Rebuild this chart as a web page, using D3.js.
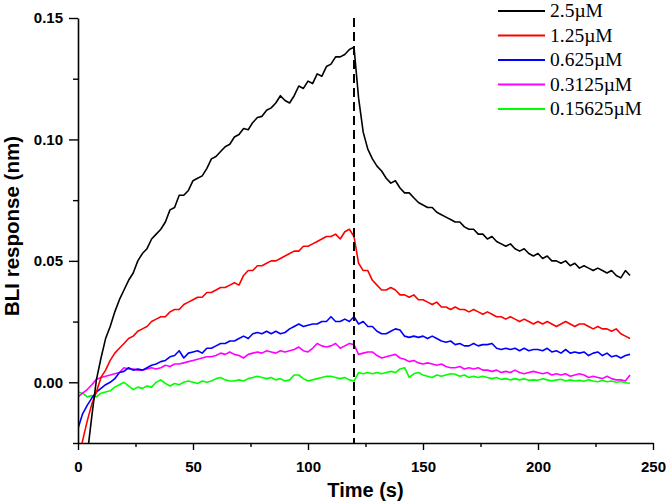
<!DOCTYPE html>
<html><head><meta charset="utf-8">
<script src="https://cdn.jsdelivr.net/npm/d3@7"></script>
<style>
html,body{margin:0;padding:0;background:#fff;}
svg{display:block;}
.tick text{font-family:Arial,"Liberation Sans",sans-serif;font-weight:bold;font-size:15px;fill:#000;}
</style></head>
<body><svg id="chart" width="666" height="503"></svg>
<script>
// ---- data ----
const seriesNames = ["2.5\u00b5M","1.25\u00b5M","0.625\u00b5M","0.3125\u00b5M","0.15625\u00b5M"];
const seriesColors = ["#000000","#ff0000","#0000ff","#ff00ff","#00ff00"];
const timeStep = 2; // s, sampling interval
const c2500 = [
 -0.060,-0.045,-0.030,-0.014,0.001,0.010,0.018,0.023,0.029,0.034,
 0.038,0.042,0.045,0.050,0.053,0.055,0.059,0.061,0.063,0.066,
 0.071,0.072,0.077,0.077,0.079,0.083,0.084,0.085,0.088,0.092,
 0.093,0.095,0.097,0.098,0.101,0.102,0.1045,0.104,0.107,0.109,
 0.1095,0.112,0.113,0.115,0.118,0.116,0.115,0.118,0.122,0.121,
 0.124,0.123,0.127,0.126,0.130,0.131,0.134,0.134,0.135,0.137,
 0.138,0.117,0.103,0.096,0.092,0.089,0.087,0.084,0.082,0.083,
 0.080,0.078,0.078,0.076,0.074,0.073,0.072,0.072,0.070,0.069,
 0.068,0.067,0.066,0.066,0.064,0.063,0.063,0.061,0.061,0.059,
 0.060,0.058,0.057,0.056,0.057,0.055,0.054,0.055,0.053,0.052,
 0.053,0.051,0.052,0.050,0.050,0.049,0.050,0.048,0.049,0.047,
 0.048,0.047,0.046,0.047,0.046,0.045,0.046,0.044,0.043,0.046,
 0.044];
const c1250 = [
 -0.035,-0.024,-0.016,-0.009,-0.004,0.002,0.005,0.009,0.012,0.014,
 0.016,0.018,0.019,0.021,0.022,0.023,0.025,0.026,0.027,0.027,
 0.029,0.030,0.030,0.032,0.033,0.034,0.035,0.035,0.037,0.037,
 0.038,0.039,0.039,0.040,0.041,0.040,0.044,0.046,0.046,0.048,
 0.048,0.049,0.050,0.050,0.051,0.052,0.053,0.054,0.054,0.056,
 0.056,0.057,0.058,0.059,0.060,0.060,0.061,0.059,0.062,0.063,
 0.060,0.049,0.046,0.046,0.042,0.040,0.038,0.038,0.039,0.038,
 0.036,0.036,0.035,0.036,0.034,0.034,0.033,0.032,0.033,0.031,
 0.031,0.030,0.031,0.030,0.030,0.029,0.030,0.029,0.028,0.029,
 0.028,0.027,0.027,0.026,0.027,0.026,0.025,0.026,0.025,0.024,
 0.025,0.024,0.025,0.024,0.023,0.024,0.025,0.024,0.023,0.024,
 0.024,0.023,0.022,0.023,0.022,0.022,0.021,0.022,0.020,0.019,
 0.018];
const c625 = [
 -0.019,-0.013,-0.0095,-0.0065,-0.004,-0.0025,-0.001,0.000,0.0015,0.004,
 0.0045,0.006,0.005,0.0055,0.005,0.006,0.007,0.0075,0.0085,0.009,
 0.0105,0.011,0.013,0.010,0.012,0.0125,0.013,0.012,0.014,0.014,
 0.015,0.016,0.016,0.017,0.017,0.018,0.019,0.018,0.020,0.0205,
 0.020,0.021,0.020,0.021,0.020,0.0205,0.022,0.023,0.024,0.023,
 0.0235,0.024,0.024,0.025,0.025,0.027,0.025,0.025,0.026,0.025,
 0.027,0.024,0.025,0.023,0.023,0.021,0.020,0.020,0.021,0.022,
 0.0215,0.019,0.0185,0.019,0.0185,0.019,0.018,0.019,0.018,0.017,
 0.0165,0.017,0.0155,0.016,0.015,0.015,0.016,0.015,0.0155,0.0155,
 0.016,0.014,0.0135,0.014,0.0135,0.014,0.013,0.014,0.013,0.0135,
 0.0135,0.013,0.014,0.0125,0.013,0.012,0.0135,0.012,0.0125,0.012,
 0.0125,0.011,0.012,0.0125,0.011,0.012,0.0105,0.011,0.010,0.011,
 0.0115];
const c3125 = [
 -0.006,-0.0045,-0.003,-0.001,0.0012,0.002,0.0025,0.003,0.0035,0.004,
 0.006,0.0055,0.0055,0.005,0.005,0.0055,0.006,0.0055,0.006,0.007,
 0.0065,0.0075,0.0075,0.008,0.0085,0.009,0.0095,0.010,0.0105,0.0105,
 0.011,0.012,0.0115,0.0125,0.0115,0.011,0.010,0.0115,0.012,0.0125,
 0.012,0.013,0.0125,0.012,0.013,0.0125,0.013,0.0135,0.0145,0.013,
 0.0125,0.014,0.016,0.015,0.0145,0.015,0.016,0.014,0.015,0.016,
 0.0155,0.0115,0.012,0.0125,0.0125,0.011,0.010,0.0105,0.011,0.0115,
 0.010,0.0095,0.0085,0.009,0.008,0.0075,0.008,0.0075,0.007,0.0075,
 0.0065,0.006,0.006,0.0065,0.0055,0.006,0.0055,0.006,0.005,0.005,
 0.0045,0.005,0.004,0.0045,0.004,0.005,0.004,0.0035,0.004,0.0045,
 0.004,0.0035,0.004,0.003,0.0035,0.003,0.0035,0.0025,0.003,0.0035,
 0.003,0.002,0.0025,0.002,0.0015,0.0025,0.0015,0.001,0.001,0.0005,
 0.003];
const c15625 = [
 -0.004,-0.0045,-0.006,-0.0055,-0.006,-0.0045,-0.004,-0.0035,-0.002,-0.001,
 0.000,-0.0015,-0.003,-0.002,-0.0025,-0.0015,-0.002,0.000,0.001,-0.0005,
 -0.0015,-0.0005,-0.001,0.000,0.0005,0.000,-0.0005,0.0005,0.000,0.0005,
 0.0015,0.002,0.001,0.0005,0.0005,0.001,0.0005,0.0015,0.002,0.0025,
 0.002,0.0015,0.002,0.001,0.0015,0.0005,0.001,0.003,0.003,0.0015,
 0.0005,0.001,0.0015,0.002,0.0025,0.0025,0.002,0.0015,0.002,0.001,
 0.0005,0.004,0.0035,0.004,0.0035,0.004,0.0035,0.004,0.0045,0.004,
 0.0055,0.006,0.002,0.0035,0.004,0.003,0.0025,0.002,0.003,0.0025,
 0.003,0.0035,0.0033,0.0025,0.003,0.002,0.0025,0.002,0.0025,0.002,
 0.0015,0.002,0.0012,0.0015,0.001,0.0015,0.001,0.0015,0.0008,0.001,
 0.0008,0.0015,0.001,0.0005,0.001,0.0012,0.0005,0.001,0.0005,0.0008,
 0.0004,0.001,0.0005,0.0002,0.0008,0.0002,0.0005,0.0,0.0003,-0.0002,
 -0.0004];
const seriesValues = [c2500, c1250, c625, c3125, c15625];
const xTickValues = [0,50,100,150,200,250];
const xMinorTicks = [25,75,125,175,225];
const yTickValues = [0.00,0.05,0.10,0.15];
const yMinorTicks = [-0.025,0.025,0.075,0.125];
const dissociationStart = 120;

// ---- layout ----
const svg = d3.select("#chart");
const L = 78, R = 653, T = 18, B = 443;
const x = d3.scaleLinear().domain([0,250]).range([L,R]);
const y = d3.scaleLinear().domain([-0.025,0.15]).range([B,T]);

svg.append("defs").append("clipPath").attr("id","plotclip")
  .append("rect").attr("x",L).attr("y",T).attr("width",R-L).attr("height",B-T);

// curves
const line = d3.line().x(d=>x(d[0])).y(d=>y(d[1]));
const gLines = svg.append("g").attr("clip-path","url(#plotclip)");
seriesValues.slice().reverse().forEach((vals,ri)=>{
  const i = seriesValues.length-1-ri;
  const pts = vals.map((v,k)=>[k*timeStep, v]);
  gLines.append("path").datum(pts).attr("d",line)
    .attr("fill","none").attr("stroke",seriesColors[i])
    .attr("stroke-width",1.6).attr("stroke-linejoin","round");
});

// dashed line
svg.append("line").attr("x1",x(dissociationStart)).attr("x2",x(dissociationStart))
  .attr("y1",y(0.15)).attr("y2",y(-0.025))
  .attr("stroke","#000").attr("stroke-width",2).attr("stroke-dasharray","9,5");

// axes
svg.append("g").attr("transform",`translate(0,${B})`)
  .call(d3.axisBottom(x).tickValues(xTickValues).tickFormat(d3.format("d")).tickSize(7).tickSizeOuter(0).tickPadding(11));
svg.append("g").attr("transform",`translate(0,${B})`)
  .call(d3.axisBottom(x).tickValues(xMinorTicks).tickFormat("").tickSize(4).tickSizeOuter(0))
  .select(".domain").remove();
svg.append("g").attr("transform",`translate(${L},0)`)
  .call(d3.axisLeft(y).tickValues(yTickValues).tickFormat(d3.format(".2f")).tickSize(9).tickSizeOuter(0).tickPadding(6));
svg.append("g").attr("transform",`translate(${L},0)`)
  .call(d3.axisLeft(y).tickValues(yMinorTicks).tickFormat("").tickSize(5).tickSizeOuter(0))
  .select(".domain").remove();
svg.selectAll(".domain").attr("stroke","#000").attr("stroke-width",1.6);
svg.selectAll(".tick line").attr("stroke","#000").attr("stroke-width",1.4);

// axis titles
svg.append("text").attr("x",(L+R)/2).attr("y",497).attr("text-anchor","middle")
  .style("font-family","Arial, 'Liberation Sans', sans-serif").style("font-weight","bold").style("font-size","20px")
  .text("Time (s)");
svg.append("text").attr("transform",`translate(19,226) rotate(-90)`).attr("text-anchor","middle")
  .style("font-family","Arial, 'Liberation Sans', sans-serif").style("font-weight","bold").style("font-size","20.5px")
  .text("BLI response (nm)");

// legend
const leg = svg.append("g");
seriesNames.forEach((n,i)=>{
  const yy = 11 + i*24.5;
  leg.append("line").attr("x1",498).attr("x2",545).attr("y1",yy).attr("y2",yy)
    .attr("stroke",seriesColors[i]).attr("stroke-width",2);
  leg.append("text").attr("x",550).attr("y",yy+6.2)
    .style("font-family","'Times New Roman','Liberation Serif',serif").style("font-size","19.5px").attr("fill","#000")
    .text(n);
});
</script>
</body></html>
